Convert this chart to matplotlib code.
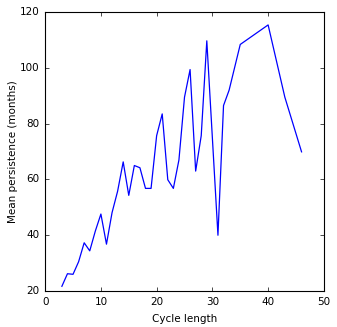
import matplotlib
matplotlib.use("Agg")
import matplotlib.pyplot as plt

cycle_length = [3, 4, 5, 6, 7, 8, 9, 10, 11, 12, 13, 14, 15, 16, 17, 18, 19, 20,
                21, 22, 23, 24, 25, 26, 27, 28, 29, 31, 32, 33, 35, 40, 43, 46]
mean_persistence = [21.7, 26.2, 26.0, 30.5, 37.3, 34.4, 41.5, 47.6, 36.8, 48.1,
                    55.8, 66.3, 54.3, 65.0, 64.2, 56.8, 56.8, 75.7, 83.5, 59.9,
                    56.8, 67.0, 89.5, 99.4, 63.0, 75.7, 109.7, 40.0, 86.5, 92.0,
                    108.4, 115.4, 89.5, 69.9]

plt.style.use("classic")
fig = plt.figure(figsize=(3.37, 3.27), dpi=100)
ax = fig.add_axes([0.134, 0.110, 0.827, 0.853])
ax.plot(cycle_length, mean_persistence, color="b", linewidth=0.9)
ax.set_xlim(0, 50)
ax.set_ylim(20, 120)
ax.set_xticks(range(0, 51, 10))
ax.set_yticks(range(20, 121, 20))
ax.tick_params(labelsize=7.5, length=3, width=0.5)
ax.set_xlabel("Cycle length", fontsize=7.5)
ax.set_ylabel("Mean persistence (months)", fontsize=7.5, labelpad=1)
for s in ax.spines.values():
    s.set_linewidth(0.8)
fig.savefig("out.png", dpi=100, facecolor="white")
